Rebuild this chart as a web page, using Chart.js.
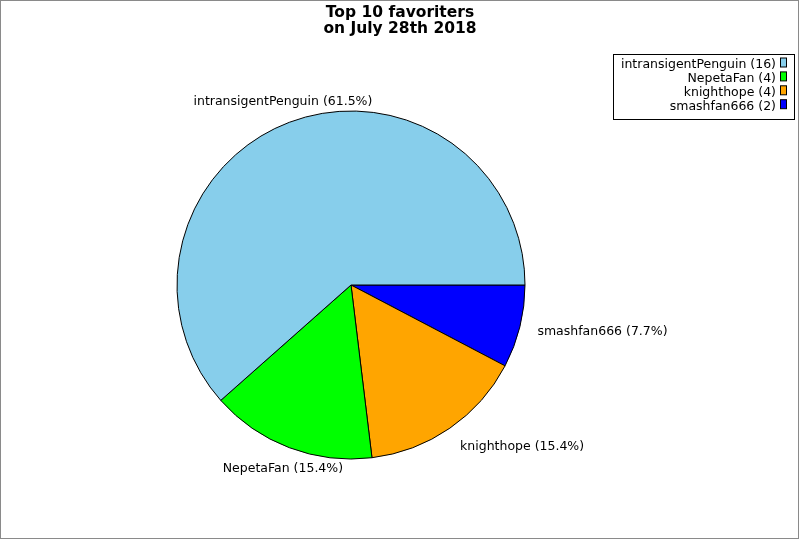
<!DOCTYPE html>
<html>
<head>
<meta charset="utf-8">
<script src="https://cdn.jsdelivr.net/npm/chart.js@4/dist/chart.umd.min.js"></script>
<style>
html,body{margin:0;padding:0;background:#fff;}
canvas{display:block;}
</style>
</head>
<body>
<canvas id="c" width="800" height="540"></canvas>
<script>
const titleLines = ["Top 10 favoriters", "on July 28th 2018"];
const categories = ["intransigentPenguin", "NepetaFan", "knighthope", "smashfan666"];
const counts = [16, 4, 4, 2];
const colors = ["#87ceeb", "#00ff00", "#ffa500", "#0000ff"];

const FONT = '"DejaVu Sans", sans-serif';
// Chart.js draws clockwise; the reference runs counter-clockwise from 3 o'clock,
// so feed the slices in reverse order starting at 90° rotation.
const drawLabels = categories.slice().reverse();
const drawCounts = counts.slice().reverse();
const drawColors = colors.slice().reverse();
const total = counts.reduce((a, b) => a + b, 0);

const decor = {
  id: 'decor',
  beforeDraw(chart) {
    const ctx = chart.ctx;
    ctx.save();
    ctx.fillStyle = '#fff';
    ctx.fillRect(0, 0, chart.width, chart.height);
    ctx.restore();
  },
  afterDraw(chart) {
    const ctx = chart.ctx;
    ctx.save();
    // frame
    ctx.strokeStyle = '#8a8a8a';
    ctx.lineWidth = 1;
    ctx.strokeRect(0.5, 0.5, 798, 538);
    // title
    ctx.fillStyle = '#000';
    ctx.font = 'bold 15.5px ' + FONT;
    ctx.textAlign = 'center';
    ctx.textBaseline = 'alphabetic';
    ctx.fillText(titleLines[0], 400, 17);
    ctx.fillText(titleLines[1], 400, 33);
    // slice labels
    const meta = chart.getDatasetMeta(0);
    ctx.font = '12.5px ' + FONT;
    ctx.textBaseline = 'middle';
    meta.data.forEach((arc, i) => {
      const p = arc.getProps(['x', 'y', 'startAngle', 'endAngle', 'outerRadius'], true);
      const a = (p.startAngle + p.endAngle) / 2;
      const x = p.x + Math.cos(a) * (p.outerRadius + 18);
      const y = p.y + Math.sin(a) * (p.outerRadius + 22);
      const c = Math.cos(a);
      ctx.textAlign = Math.abs(c) < 0.45 ? 'center' : (c > 0 ? 'left' : 'right');
      const pct = (drawCounts[i] / total * 100).toFixed(1);
      ctx.fillText(drawLabels[i] + ' (' + pct + '%)', x, y);
    });
    // legend
    const lx = 613, ly = 54, lw = 181, lh = 65;
    ctx.fillStyle = '#fff';
    ctx.fillRect(lx, ly, lw, lh);
    ctx.strokeStyle = '#000';
    ctx.strokeRect(lx + 0.5, ly + 0.5, lw, lh);
    ctx.textAlign = 'right';
    ctx.textBaseline = 'alphabetic';
    categories.forEach((name, i) => {
      const base = 68 + i * 13.9;
      ctx.fillStyle = '#000';
      ctx.fillText(name + ' (' + counts[i] + ')', 776, base);
      ctx.fillStyle = colors[i];
      ctx.fillRect(780.5, base - 10, 6, 9);
      ctx.strokeStyle = '#000';
      ctx.strokeRect(780.5, base - 10, 6, 9);
    });
    ctx.restore();
  }
};

new Chart(document.getElementById('c'), {
  type: 'pie',
  data: {
    labels: drawLabels,
    datasets: [{
      data: drawCounts,
      backgroundColor: drawColors,
      borderColor: '#000',
      borderWidth: 1
    }]
  },
  options: {
    responsive: false,
    animation: false,
    rotation: 90,
    radius: 174,
    layout: { padding: { left: 177, right: 275, top: 111, bottom: 81 } },
    plugins: {
      legend: { display: false },
      title: { display: false },
      tooltip: { enabled: false }
    }
  },
  plugins: [decor]
});
</script>
</body>
</html>
